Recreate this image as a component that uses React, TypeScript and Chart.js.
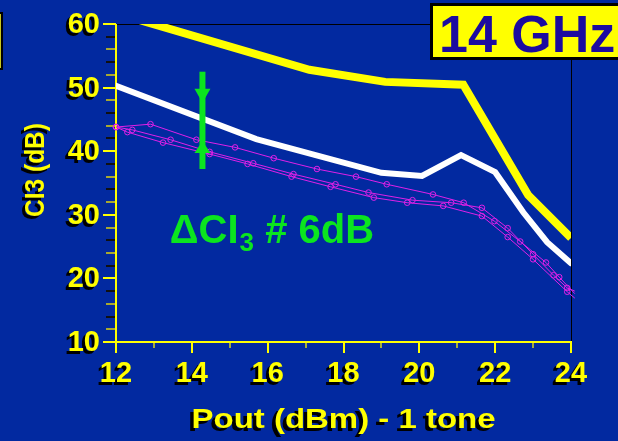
import React, { useEffect, useRef } from "react";
import { Chart, registerables } from "chart.js";

Chart.register(...registerables);

// Output power (dBm) and carrier-to-IM3 ratio CI3 (dB) for each trace
const yellowPout = [12, 17.1, 19.1, 21.16, 22.87, 24];
const yellowCi3 = [61.7, 52.8, 50.9, 50.45, 33.1, 26.35];

const whitePout = [12, 15.7, 19.0, 20.07, 21.1, 22.0, 22.74, 23.37, 24];
const whiteCi3 = [50.3, 41.9, 36.6, 36.1, 39.4, 36.7, 30.4, 25.7, 22.4];

const sweepAPout = [12, 12.91, 14.12, 15.14, 16.16, 17.3, 18.33, 19.14, 20.36, 21.17, 21.98, 22.66, 23.34, 23.69, 24.1];
const sweepACi3 = [43.8, 44.25, 41.8, 40.6, 38.9, 37.2, 36.0, 34.8, 33.2, 31.9, 29.0, 25.8, 22.5, 20.2, 17.6];

const sweepBPout = [12, 12.43, 13.44, 14.47, 15.62, 16.68, 17.79, 18.66, 19.82, 20.84, 21.65, 22.33, 23.0, 23.54, 23.9, 24.1];
const sweepBCi3 = [43.8, 43.35, 41.8, 39.9, 38.1, 36.4, 34.8, 33.5, 32.3, 31.9, 31.1, 27.9, 23.8, 20.5, 18.5, 18.0];

const sweepCPout = [12, 12.3, 13.24, 14.47, 15.47, 16.63, 17.66, 18.8, 19.68, 20.63, 21.65, 22.33, 23.0, 23.9, 24.1];
const sweepCCi3 = [43.8, 43.0, 41.35, 39.55, 38.0, 36.0, 34.4, 32.7, 31.9, 31.4, 29.8, 26.5, 23.0, 17.9, 16.9];

const xTickLabels = [12, 14, 16, 18, 20, 22, 24];
const yTickLabels = [10, 20, 30, 40, 50, 60];

const bandLabel = "14 GHz";
const xTitle = "Pout (dBm) - 1 tone";
const yTitle = "CI3 (dB)";

// ΔCI3 double arrow: vertical extent and the two arrow tips
const arrowPout = 14.28;
const arrowTopCi3 = 52.5;
const arrowBottomCi3 = 37.2;
const upperTipCi3 = 47.6;
const lowerTipCi3 = 41.6;
const deltaLabelPout = 13.42;
const deltaLabelCi3 = 25.6;

const BG = "#0229a0";
const YELLOW = "#ffff00";
const GREEN = "#0be51f";
const MAGENTA = "#e020e8";
const FONT = '"Liberation Sans", Arial, sans-serif';

const pts = (xs: number[], ys: number[]) => xs.map((x, i) => ({ x, y: ys[i] }));

function shadowText(ctx: CanvasRenderingContext2D, text: string, x: number, y: number, dx = -3, dy = 3) {
  ctx.fillStyle = "#000";
  ctx.fillText(text, x + dx, y + dy);
  ctx.fillStyle = YELLOW;
  ctx.fillText(text, x, y);
}

const decor = {
  id: "decor",
  beforeDraw(chart: any) {
    const { ctx, width, height } = chart;
    ctx.save();
    ctx.fillStyle = BG;
    ctx.fillRect(0, 0, width, height);
    ctx.restore();
  },
  beforeDatasetsDraw(chart: any) {
    const { ctx, chartArea: a, scales } = chart;
    const xs = scales.x;
    const ys = scales.y;
    ctx.save();
    // plot frame (top and right)
    ctx.strokeStyle = "#000";
    ctx.lineWidth = 1;
    ctx.beginPath();
    ctx.moveTo(a.left, a.top + 0.5);
    ctx.lineTo(a.right + 0.5, a.top + 0.5);
    ctx.lineTo(a.right + 0.5, a.bottom);
    ctx.stroke();

    // y ticks: major every 10, minor every 2
    for (let v = 10; v <= 60; v += 2) {
      const py = Math.round(ys.getPixelForValue(v));
      const major = v % 10 === 0;
      ctx.lineWidth = 2;
      ctx.strokeStyle = major ? YELLOW : (v / 2) % 2 === 0 ? "#a8a830" : "#101010";
      ctx.beginPath();
      ctx.moveTo(a.left - (major ? 13 : 10), py);
      ctx.lineTo(a.left, py);
      ctx.stroke();
    }
    // x ticks: major every 2, minor every 1
    for (let v = 12; v <= 24; v += 1) {
      const px = Math.round(xs.getPixelForValue(v));
      const major = v % 2 === 0;
      ctx.lineWidth = major ? 2 : 1.5;
      ctx.strokeStyle = major ? YELLOW : "#d8d820";
      ctx.beginPath();
      ctx.moveTo(px, a.bottom - 1);
      ctx.lineTo(px, a.bottom + (major ? 11 : 6));
      ctx.stroke();
    }
    // axis lines
    ctx.strokeStyle = YELLOW;
    ctx.lineWidth = 2;
    ctx.beginPath();
    ctx.moveTo(a.left, a.top);
    ctx.lineTo(a.left, a.bottom);
    ctx.moveTo(a.left - 13, a.bottom);
    ctx.lineTo(a.right, a.bottom);
    ctx.stroke();
    ctx.restore();
  },
  afterDatasetsDraw(chart: any) {
    const { ctx, chartArea: a, scales } = chart;
    const xs = scales.x;
    const ys = scales.y;
    ctx.save();

    // ΔCI3 double arrow
    const ax = xs.getPixelForValue(arrowPout);
    const yTop = ys.getPixelForValue(arrowTopCi3);
    const yBot = ys.getPixelForValue(arrowBottomCi3);
    const yUp = ys.getPixelForValue(upperTipCi3);
    const yLo = ys.getPixelForValue(lowerTipCi3);
    ctx.fillStyle = GREEN;
    ctx.fillRect(ax - 3, yTop, 6, yBot - yTop);
    ctx.beginPath();
    ctx.moveTo(ax - 8, yUp - 14);
    ctx.lineTo(ax + 8, yUp - 14);
    ctx.lineTo(ax, yUp);
    ctx.closePath();
    ctx.fill();
    ctx.beginPath();
    ctx.moveTo(ax - 8, yLo + 12);
    ctx.lineTo(ax + 8, yLo + 12);
    ctx.lineTo(ax, yLo);
    ctx.closePath();
    ctx.fill();

    // ΔCI3 label
    const delta = Math.round(upperTipCi3 - lowerTipCi3);
    let tx = xs.getPixelForValue(deltaLabelPout);
    const ty = ys.getPixelForValue(deltaLabelCi3);
    ctx.textAlign = "left";
    ctx.textBaseline = "alphabetic";
    ctx.font = `bold 40px ${FONT}`;
    ctx.fillText("\u0394CI", tx, ty);
    tx += ctx.measureText("\u0394CI").width;
    ctx.font = `bold 26px ${FONT}`;
    ctx.fillText("3", tx + 1, ty + 8);
    tx += ctx.measureText("3").width + 1;
    ctx.font = `bold 40px ${FONT}`;
    ctx.fillText(` # ${delta}dB`, tx, ty);

    // tick labels
    ctx.font = `bold 29px ${FONT}`;
    ctx.textAlign = "right";
    for (const v of yTickLabels) {
      shadowText(ctx, String(v), a.left - 16, ys.getPixelForValue(v) + 9);
    }
    ctx.textAlign = "center";
    for (const v of xTickLabels) {
      shadowText(ctx, String(v), xs.getPixelForValue(v), a.bottom + 40);
    }

    // x title
    ctx.font = `bold 28px ${FONT}`;
    const wx = ctx.measureText(xTitle).width;
    ctx.save();
    ctx.translate((a.left + a.right) / 2, 428);
    ctx.scale(304 / wx, 1);
    shadowText(ctx, xTitle, 0, 0, -3, 3);
    ctx.restore();

    // y title (rotated)
    ctx.font = `bold 28px ${FONT}`;
    const wy = ctx.measureText(yTitle).width;
    ctx.save();
    ctx.translate(44, 170);
    ctx.rotate(-Math.PI / 2);
    const sy = 94 / wy;
    ctx.scale(sy, 1);
    shadowText(ctx, yTitle, 0, 0, -3 / sy, -3);
    ctx.restore();

    // frequency tag
    ctx.fillStyle = YELLOW;
    ctx.fillRect(430, 3, 200, 57);
    ctx.strokeStyle = "#000";
    ctx.lineWidth = 3;
    ctx.strokeRect(431.5, 4.5, 200, 54);
    ctx.fillStyle = "#1c0ba0";
    ctx.textAlign = "left";
    ctx.font = `bold 52px ${FONT}`;
    ctx.fillText(bandLabel, 439, 52);

    // edge of the neighbouring box on the left
    ctx.fillStyle = "#000";
    ctx.fillRect(0, 12, 3, 58);
    ctx.fillStyle = "#c8c820";
    ctx.fillRect(0, 14, 1, 54);

    ctx.restore();
  },
};

const markerRadii = (n: number) => Array.from({ length: n }, (_, i) => (i === n - 1 ? 0 : 2.8));

export default function App() {
  const ref = useRef<HTMLCanvasElement | null>(null);

  useEffect(() => {
    if (!ref.current) return;
    const sweep = (xs: number[], ys: number[]) => ({
      data: pts(xs, ys),
      borderColor: MAGENTA,
      borderWidth: 1,
      pointStyle: "circle",
      pointRadius: markerRadii(xs.length),
      pointBorderColor: MAGENTA,
      pointBackgroundColor: "rgba(0,0,0,0)",
      pointBorderWidth: 1,
      tension: 0,
      clip: false as any,
    });
    const chart = new Chart(ref.current, {
      type: "line",
      data: {
        datasets: [
          {
            data: pts(yellowPout, yellowCi3),
            borderColor: YELLOW,
            borderWidth: 8,
            pointRadius: 0,
            tension: 0,
            borderJoinStyle: "miter",
            clip: 0,
          },
          {
            data: pts(whitePout, whiteCi3),
            borderColor: "#ffffff",
            borderWidth: 6,
            pointRadius: 0,
            tension: 0,
            borderJoinStyle: "miter",
            borderCapStyle: "round",
          },
          sweep(sweepAPout, sweepACi3),
          sweep(sweepBPout, sweepBCi3),
          sweep(sweepCPout, sweepCCi3),
        ] as any,
      },
      options: {
        animation: false,
        responsive: false,
        events: [],
        layout: { padding: { left: 0, top: 24, right: 47, bottom: 0 } },
        plugins: { legend: { display: false }, tooltip: { enabled: false } },
        scales: {
          x: {
            type: "linear",
            min: 12,
            max: 24,
            grid: { display: false },
            border: { display: false },
            ticks: { display: false, stepSize: 2 },
            afterFit: (s: any) => {
              s.height = 99;
            },
          },
          y: {
            type: "linear",
            min: 10,
            max: 60,
            grid: { display: false },
            border: { display: false },
            ticks: { display: false, stepSize: 10 },
            afterFit: (s: any) => {
              s.width = 116;
            },
          },
        },
      },
      plugins: [decor],
    });
    return () => chart.destroy();
  }, []);

  return (
    <div style={{ position: "absolute", left: 0, top: 0, width: 618, height: 441, background: BG }}>
      <canvas ref={ref} width={618} height={441} style={{ display: "block" }} />
    </div>
  );
}
